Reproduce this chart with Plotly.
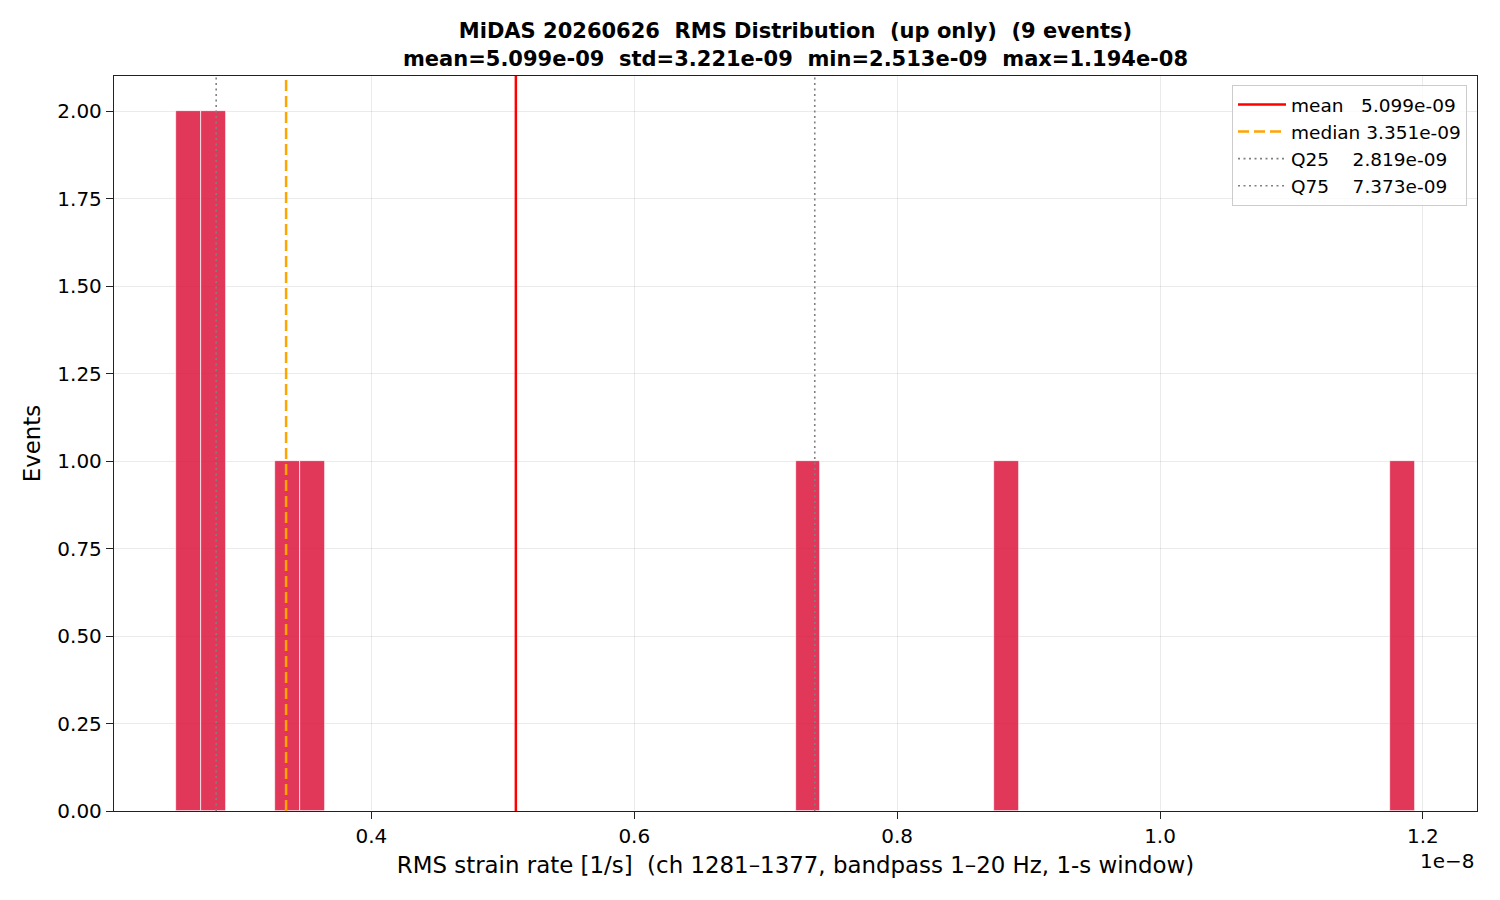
import numpy as np
import plotly.graph_objects as go

# per-event RMS strain rate [1/s]
rms_values = [2.513e-9, 2.60e-9, 2.819e-9, 2.85e-9, 3.351e-9,
              3.55e-9, 7.373e-9, 8.895e-9, 11.94e-9]
n_bins = 50

stat_names = ["mean", "median", "Q25", "Q75"]
stat_values = [5.099e-9, 3.351e-9, 2.819e-9, 7.373e-9]
std_value = 3.221e-9
min_value = 2.513e-9
max_value = 1.194e-8

x_ticks = [0.4, 0.6, 0.8, 1.0, 1.2]
y_ticks = [0.0, 0.25, 0.5, 0.75, 1.0, 1.25, 1.5, 1.75, 2.0]

SCALE = 1e-8
FONT = "DejaVu Sans"
NB = "\u00a0"

counts, edges = np.histogram(rms_values, bins=n_bins, range=(min(rms_values), max(rms_values)))
centers = (edges[:-1] + edges[1:]) / 2 / SCALE
width = (edges[1] - edges[0]) / SCALE

span = (max(rms_values) - min(rms_values)) / SCALE
x_range = [min(rms_values) / SCALE - 0.05 * span, max(rms_values) / SCALE + 0.05 * span]
y_top = 2.1

fig = go.Figure()
fig.add_trace(
    go.Bar(
        x=centers,
        y=counts,
        width=width,
        marker=dict(color="rgba(220,20,60,0.85)", line=dict(color="white", width=0.7)),
        showlegend=False,
    )
)

line_styles = [
    dict(color="red", width=2.5, dash="solid"),
    dict(color="orange", width=2.5, dash="11px,5px"),
    dict(color="gray", width=1.6, dash="2px,3.5px"),
    dict(color="gray", width=1.6, dash="2px,3.5px"),
]
pad = {"mean": NB * 3, "median": NB, "Q25": NB * 4, "Q75": NB * 4}
for name, val, style in zip(stat_names, stat_values, line_styles):
    fig.add_trace(
        go.Scatter(
            x=[val / SCALE, val / SCALE],
            y=[0, y_top],
            mode="lines",
            line=style,
            name=f"{name}{pad[name]}{val:.3e}",
        )
    )

title_1 = f"MiDAS 20260626  RMS Distribution  (up only)  ({len(rms_values)} events)"
title_2 = (f"mean={stat_values[0]:.3e}  std={std_value:.3e}  "
           f"min={min_value:.3e}  max={max_value:.3e}")

# the page puts the figure 8px in from the top-left corner
fig.update_layout(
    width=1492,
    height=892,
    margin=dict(l=106, r=23, t=68, b=89),
    plot_bgcolor="white",
    paper_bgcolor="white",
    font=dict(family=FONT, size=20, color="black"),
    bargap=0,
    title=dict(
        text=f"<b>{title_1.replace(' ', NB)}<br>{title_2.replace(' ', NB)}</b>",
        x=(106 + 1363 / 2) / 1492,
        xanchor="center",
        y=0.966,
        yanchor="top",
        font=dict(family=FONT, size=21),
    ),
    legend=dict(
        x=1 - 10 / 1363,
        y=1 - 9 / 735,
        xanchor="right",
        yanchor="top",
        bgcolor="rgba(255,255,255,0.8)",
        bordercolor="#cccccc",
        borderwidth=1,
        font=dict(family=FONT, size=18.5),
        tracegroupgap=0,
        itemwidth=48,
    ),
)

axis_style = dict(
    showgrid=True,
    gridcolor="rgba(0,0,0,0.08)",
    showline=True,
    linecolor="#222222",
    linewidth=1.3,
    mirror=True,
    ticks="outside",
    ticklen=7,
    tickwidth=1.3,
    tickcolor="#222222",
    zeroline=False,
    tickfont=dict(size=20),
)

fig.update_xaxes(
    range=x_range,
    tickvals=x_ticks,
    ticktext=[f"{t:.1f}" for t in x_ticks],
    title=dict(
        text="RMS strain rate [1/s]  (ch 1281–1377, bandpass 1–20 Hz, 1-s window)".replace(" ", NB),
        font=dict(size=22.9),
        standoff=9,
    ),
    **axis_style,
)
fig.update_yaxes(
    range=[0, y_top],
    tickvals=y_ticks,
    ticktext=[f"{t:.2f}" for t in y_ticks],
    title=dict(text="Events", font=dict(size=22.9), standoff=10),
    **axis_style,
)

fig.add_annotation(
    text="1e\u22128",
    xref="paper",
    yref="paper",
    x=1.0,
    y=-0.049,
    xanchor="right",
    yanchor="top",
    showarrow=False,
    font=dict(family=FONT, size=20),
)

fig.write_html("out.html")
